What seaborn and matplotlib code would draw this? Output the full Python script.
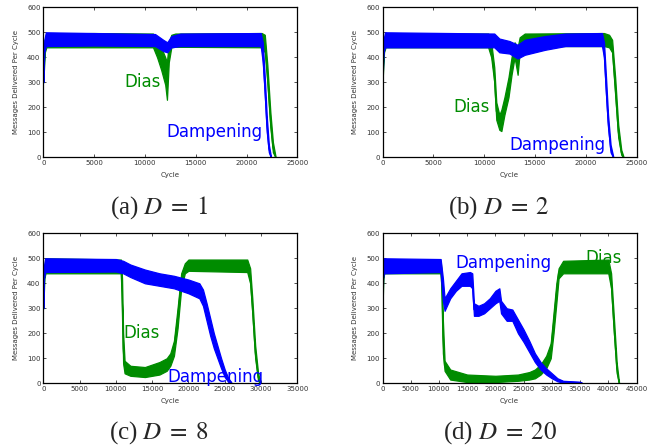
import matplotlib
matplotlib.use("Agg")
import matplotlib.pyplot as plt
import seaborn as sns
import pandas as pd

# envelopes: (cycle, low, high) of messages delivered per cycle
d1_dias = [(0, 300, 330), (150, 420, 470), (300, 440, 495), (5000, 440, 497), (10800, 440, 495),
           (11200, 400, 470), (11600, 350, 440), (12000, 290, 400), (12170, 230, 380), (12350, 380, 460),
           (12600, 440, 490), (13000, 442, 495), (21500, 440, 497), (21800, 420, 490), (22050, 300, 370),
           (22350, 120, 180), (22600, 20, 60), (22850, 0, 5)]
d1_damp = [(0, 300, 340), (100, 420, 470), (250, 445, 500), (5000, 447, 497), (11000, 445, 493),
           (11800, 425, 470), (12200, 420, 460), (12600, 440, 485), (13500, 445, 495), (21400, 445, 497),
           (21600, 380, 460), (21800, 250, 320), (22000, 100, 160), (22200, 20, 50), (22400, 0, 5)]

d2_dias = [(0, 300, 330), (150, 420, 470), (300, 440, 495), (10400, 440, 495), (10700, 400, 460),
           (11000, 300, 360), (11200, 150, 220), (11500, 110, 170), (11700, 105, 190), (12000, 170, 240),
           (12400, 240, 320), (12700, 330, 400), (13000, 400, 460), (13300, 330, 440), (13500, 420, 480),
           (14000, 445, 495), (21800, 445, 497), (22300, 440, 490), (22600, 420, 470), (22900, 250, 320),
           (23200, 80, 130), (23500, 10, 30), (23700, 0, 5)]
d2_damp = [(0, 300, 340), (100, 420, 470), (250, 440, 500), (11000, 440, 495), (11500, 420, 475),
           (12500, 415, 465), (13300, 395, 450), (14000, 410, 470), (16000, 430, 485), (18000, 445, 495),
           (21600, 445, 497), (21800, 400, 460), (22000, 250, 320), (22200, 120, 170), (22450, 20, 50),
           (22700, 0, 5)]

d8_dias = [(0, 300, 330), (150, 420, 470), (300, 440, 500), (10700, 440, 495), (10850, 300, 420),
           (11000, 80, 200), (11200, 40, 90), (12000, 30, 70), (14000, 25, 65), (16000, 35, 85),
           (17000, 50, 100), (17500, 70, 120), (18000, 110, 170), (18500, 220, 300), (19000, 380, 440),
           (19500, 440, 480), (20000, 450, 495), (28100, 445, 495), (28500, 400, 460), (28800, 280, 340),
           (29200, 100, 150), (29600, 10, 40), (29900, 0, 5)]
d8_damp = [(0, 300, 340), (100, 420, 470), (250, 445, 500), (10000, 447, 497), (11000, 440, 490),
           (12000, 425, 475), (14000, 400, 455), (16000, 390, 440), (18000, 380, 430), (20000, 360, 415),
           (21500, 340, 400), (22000, 310, 375), (22500, 250, 320), (23000, 190, 260), (23500, 140, 200),
           (24000, 100, 150), (24500, 60, 100), (25000, 25, 55), (25500, 5, 20), (25900, 0, 5)]

d20_dias = [(0, 300, 330), (150, 420, 470), (300, 440, 495), (10300, 440, 490), (10500, 350, 440),
            (10700, 120, 250), (11000, 50, 90), (12000, 15, 55), (15000, 5, 35), (20000, 5, 30),
            (24000, 10, 35), (26000, 15, 45), (27000, 20, 55), (28000, 35, 75), (29000, 60, 110),
            (29800, 100, 160), (30300, 200, 280), (30800, 320, 400), (31200, 420, 460), (32000, 440, 490),
            (40000, 440, 495), (40500, 380, 440), (41000, 200, 260), (41500, 40, 80), (41900, 0, 5)]
d20_damp = [(0, 300, 340), (100, 420, 470), (250, 440, 500), (10300, 445, 497), (10700, 330, 420),
            (11000, 290, 340), (12000, 340, 380), (13000, 370, 410), (14000, 390, 440), (15500, 390, 445),
            (15900, 380, 440), (16200, 270, 320), (17000, 270, 310), (18000, 280, 320), (19000, 300, 340),
            (20000, 320, 370), (20700, 330, 380), (21000, 280, 330), (22000, 250, 300), (23000, 250, 295),
            (24000, 200, 255), (25000, 165, 215), (26000, 125, 170), (27000, 85, 120), (28000, 55, 85),
            (29000, 35, 60), (30000, 20, 40), (31000, 8, 20), (32000, 2, 10), (35000, 0, 6), (35300, 0, 3)]

captions = [r"(a) $D\;=\;1$", r"(b) $D\;=\;2$", r"(c) $D\;=\;8$", r"(d) $D\;=\;20$"]
x_max = [25000, 25000, 35000, 45000]
# label positions (cycle, msgs) for Dias and Dampening
dias_pos = [(8000, 300), (7000, 203), (11050, 200), (35950, 503)]
damp_pos = [(12070, 100), (12480, 49), (17040, 27), (12930, 483)]

GREEN = "#008c00"
BLUE = "#0000ff"


def to_frame(rows):
    recs = []
    for x, lo, hi in rows:
        recs.append({"cycle": x, "msgs": lo})
        recs.append({"cycle": x, "msgs": hi})
    return pd.DataFrame(recs)


def draw_band(ax, rows, color, z):
    sns.lineplot(data=to_frame(rows), x="cycle", y="msgs", color=color, estimator="mean",
                 errorbar=("pi", 100), err_kws={"alpha": 1, "linewidth": 0.9, "zorder": z},
                 linewidth=0.9, zorder=z, ax=ax)


sns.set_theme(style="ticks")
plt.rcParams["font.family"] = ["DejaVu Sans"]
plt.rcParams["mathtext.fontset"] = "stix"
plt.rcParams["xtick.direction"] = "in"
plt.rcParams["ytick.direction"] = "in"
plt.rcParams["xtick.top"] = True
plt.rcParams["ytick.right"] = True

fig = plt.figure(figsize=(6.54, 4.47), dpi=100)
W, H = 654, 447
boxes = [(43.3, 7.3), (382.5, 7.3), (43.3, 233.3), (382.5, 233.3)]
cap_pos = [(159, 208), (499, 208), (159, 433), (500, 433)]
panels = [(d1_dias, d1_damp), (d2_dias, d2_damp), (d8_dias, d8_damp), (d20_dias, d20_damp)]

for i, (dias, damp) in enumerate(panels):
    left, top = boxes[i]
    ax = fig.add_axes([left / W, 1 - (top + 150) / H, 254 / W, 150 / H])
    draw_band(ax, dias, GREEN, 2)
    draw_band(ax, damp, BLUE, 3)
    ax.set_xlim(0, x_max[i])
    ax.set_ylim(0, 600)
    ax.set_xticks(range(0, x_max[i] + 1, 5000))
    ax.set_yticks(range(0, 601, 100))
    ax.tick_params(labelsize=5, length=2.5, width=0.6, colors="#333333", pad=2)
    for s in ax.spines.values():
        s.set_linewidth(0.9)
        s.set_color("black")
        s.set_zorder(5)
    ax.set_xlabel("Cycle", fontsize=5, color="#333333", labelpad=4)
    ax.set_ylabel("Messages Delivered Per Cycle", fontsize=5, color="#333333", labelpad=6)
    ax.text(*dias_pos[i], "Dias", color=GREEN, fontsize=12, ha="left", va="center", zorder=6)
    ax.text(*damp_pos[i], "Dampening", color=BLUE, fontsize=12, ha="left", va="center", zorder=6)
    cx, cy = cap_pos[i]
    fig.text(cx / W, 1 - cy / H, captions[i], ha="center", va="center",
             fontsize=18, family="Liberation Serif")

fig.savefig("out.png", dpi=100)
